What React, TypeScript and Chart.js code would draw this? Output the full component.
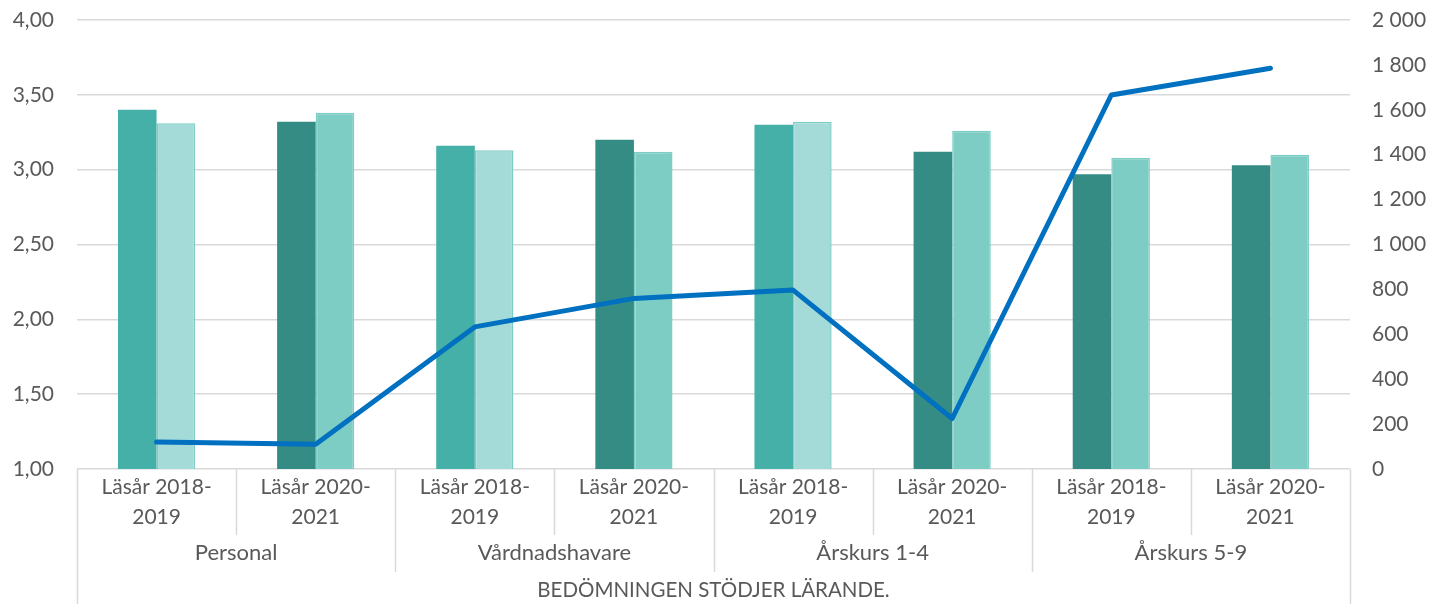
import React, { useEffect, useRef } from "react";
import { Chart, registerables } from "chart.js";

Chart.register(...registerables);

const categories: string[][] = [
  ["Läsår 2018-", "2019"],
  ["Läsår 2020-", "2021"],
  ["Läsår 2018-", "2019"],
  ["Läsår 2020-", "2021"],
  ["Läsår 2018-", "2019"],
  ["Läsår 2020-", "2021"],
  ["Läsår 2018-", "2019"],
  ["Läsår 2020-", "2021"],
];
const groups = ["Personal", "Vårdnadshavare", "Årskurs 1-4", "Årskurs 5-9"];
const axisTitle = "BEDÖMNINGEN STÖDJER LÄRANDE.";

const seriesA = [3.4, 3.32, 3.16, 3.2, 3.3, 3.12, 2.97, 3.03];
const seriesB = [3.31, 3.38, 3.13, 3.12, 3.32, 3.26, 3.08, 3.1];
const lineValues = [120, 110, 633, 760, 797, 225, 1666, 1785];

const colorsA = ["#45b0a8", "#358c84", "#45b0a8", "#358c84", "#45b0a8", "#358c84", "#358c84", "#358c84"];
const colorsB = ["#a4dbd8", "#7ecdc5", "#a4dbd8", "#7ecdc5", "#a4dbd8", "#7ecdc5", "#7ecdc5", "#7ecdc5"];

const FONT = "Lato";
const FSIZE = 21;
const TEXT = "#595959";
const GRID = "#d9d9d9";

const multiLevel = {
  id: "multiLevel",
  afterDraw(chart: any) {
    const ctx = chart.ctx;
    const xs = chart.scales.x;
    const area = chart.chartArea;
    const n = categories.length;
    const step = (area.right - area.left) / n;
    const b = area.bottom;
    const H = chart.height;
    ctx.save();
    ctx.strokeStyle = GRID;
    ctx.lineWidth = 1.5;
    for (let i = 0; i <= n; i++) {
      const x = Math.round(area.left + i * step) + 0.5;
      let end = b + 66;
      if (i === 0 || i === n) end = H;
      else if (i % 2 === 0) end = b + 103;
      ctx.beginPath();
      ctx.moveTo(x, b);
      ctx.lineTo(x, end);
      ctx.stroke();
    }
    ctx.fillStyle = TEXT;
    ctx.textAlign = "center";
    ctx.textBaseline = "middle";
    ctx.font = `${FSIZE}px ${FONT}`;
    categories.forEach((lines, i) => {
      const cx = xs.getPixelForValue(i);
      ctx.fillText(lines[0], cx, b + 18);
      ctx.fillText(lines[1], cx, b + 48);
    });
    ctx.font = `22px ${FONT}`;
    groups.forEach((g, gi) => {
      const cx = (xs.getPixelForValue(gi * 2) + xs.getPixelForValue(gi * 2 + 1)) / 2;
      ctx.fillText(g, cx, b + 84);
    });
    ctx.font = `20.5px ${FONT}`;
    ctx.fillText(axisTitle, (area.left + area.right) / 2, b + 121);
    ctx.restore();
  },
};

export default function App() {
  const ref = useRef<HTMLCanvasElement | null>(null);
  useEffect(() => {
    if (!ref.current) return;
    const chart = new Chart(ref.current, {
      type: "bar",
      data: {
        labels: categories.map((c) => c.join(" ")),
        datasets: [
          {
            type: "line",
            label: "Antal",
            data: lineValues,
            yAxisID: "y1",
            borderColor: "#0070c0",
            borderWidth: 5,
            pointRadius: 0,
            tension: 0,
            borderCapStyle: "round",
            borderJoinStyle: "round",
            order: 0,
          } as any,
          {
            label: "Serie 1",
            data: seriesA,
            yAxisID: "y",
            backgroundColor: colorsA,
            borderWidth: 0,
            categoryPercentage: 0.485,
            barPercentage: 1,
            order: 1,
          },
          {
            label: "Serie 2",
            data: seriesB,
            yAxisID: "y",
            backgroundColor: colorsB,
            borderColor: "#7ecdc5",
            borderWidth: 1.5,
            categoryPercentage: 0.485,
            barPercentage: 1,
            order: 1,
          },
        ],
      },
      options: {
        animation: false,
        responsive: true,
        maintainAspectRatio: false,
        layout: { autoPadding: false, padding: { top: 20, bottom: 135, left: 0, right: 0 } },
        plugins: { legend: { display: false }, tooltip: { enabled: false }, title: { display: false } },
        scales: {
          x: { display: false, offset: true },
          y: {
            position: "left",
            min: 1,
            max: 4,
            ticks: {
              stepSize: 0.5,
              padding: 23,
              color: TEXT,
              font: { family: FONT, size: FSIZE },
              callback: (v: any) => Number(v).toFixed(2).replace(".", ","),
            },
            grid: { color: GRID, lineWidth: 1.5, drawTicks: false },
            border: { display: false },
            afterFit: (s: any) => {
              s.width = 77;
              s.paddingTop = 0;
              s.paddingBottom = 0;
            },
          },
          y1: {
            position: "right",
            min: 0,
            max: 2000,
            ticks: {
              stepSize: 200,
              padding: 22,
              color: TEXT,
              font: { family: FONT, size: FSIZE },
              callback: (v: any) => String(v).replace(/\B(?=(\d{3})+(?!\d))/g, " "),
            },
            grid: { display: false, drawTicks: false },
            border: { display: false },
            afterFit: (s: any) => {
              s.width = 79;
              s.paddingTop = 0;
              s.paddingBottom = 0;
            },
          },
        },
      },
      plugins: [multiLevel],
    });
    return () => chart.destroy();
  }, []);
  return (
    <div style={{ position: "absolute", left: 0, top: 0, width: 1429, height: 604, background: "#fff" }}>
      <canvas ref={ref} />
    </div>
  );
}
